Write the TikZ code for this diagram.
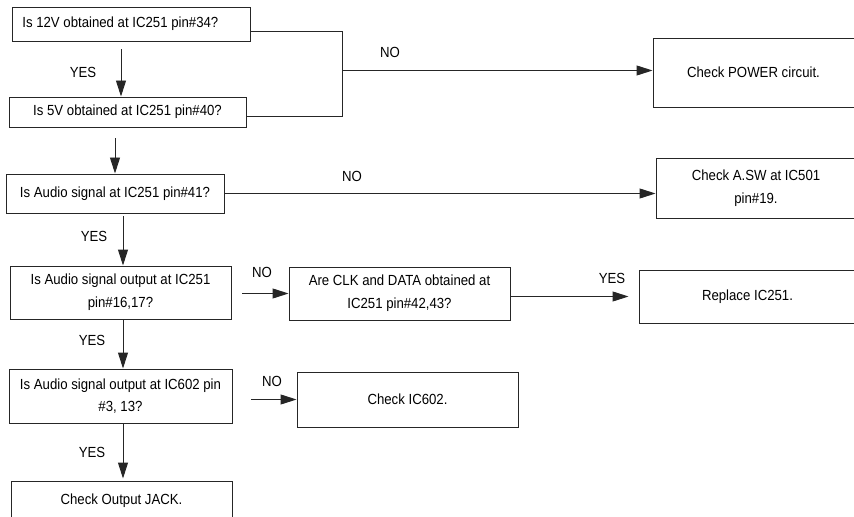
\documentclass[tikz,border=0pt]{standalone}
\usepackage{fontspec}
\setmainfont{Liberation Sans}[FakeStretch=0.9]
\usetikzlibrary{arrows.meta, calc}
\tikzset{
  box/.style={draw=black!85, line width=0.7pt, align=center, inner sep=0pt, font=\fontsize{11}{17}\selectfont},
  conn/.style={draw=black!85, line width=0.7pt},
  arr/.style={conn, -{Triangle[length=12pt, width=7.5pt]}},
  lbl/.style={inner sep=0pt, font=\fontsize{11}{12}\selectfont},
}

\begin{document}
\begin{tikzpicture}[x=0.75pt, y=-0.75pt]
  \useasboundingbox (0,0) rectangle (854,517);
  \clip (0,0) rectangle (854,517);

  % Questions
  \node[box, minimum width=178.5pt, minimum height=25.5pt] (q1) at (131,24) {Is 12V obtained at IC251 pin\#34?\hspace*{16pt}};
  \node[box, minimum width=177.75pt, minimum height=22.5pt] (q2) at (127.5,112) {Is 5V obtained at IC251 pin\#40?};
  \node[box, minimum width=163.5pt, minimum height=29.25pt] (q3) at (115,193.5) {Is Audio signal at IC251 pin\#41?};
  \node[box, minimum width=165.75pt, minimum height=39.75pt] (q4) at (120.5,292.5) {Is Audio signal output at IC251\\pin\#16,17?};
  \node[box, minimum width=167.25pt, minimum height=40.5pt] (q5) at (120.5,396) {Is Audio signal output at IC602 pin\\\#3, 13?};
  \node[box, minimum width=165.75pt, minimum height=30pt] (q6) at (121.5,501) {Check Output JACK.};

  % Checks
  \node[box, minimum width=150.75pt, minimum height=51.75pt] (power) at (753.5,72.5) {Check POWER circuit.};
  \node[box, minimum width=150pt, minimum height=45pt] (asw) at (756,188) {Check A.SW at IC501\\pin\#19.};
  \node[box, minimum width=165.75pt, minimum height=39.75pt] (clk) at (399.5,293.5) {Are CLK and DATA obtained at\\IC251 pin\#42,43?};
  \node[box, minimum width=162.75pt, minimum height=39.75pt] (repl) at (747.5,296.5) {Replace IC251.};
  \node[box, minimum width=165.75pt, minimum height=41.25pt] (ic602) at (407.5,399.5) {Check IC602.};

  % YES path
  \draw[arr] ($(q1.south)+(-10,8)$) -- ($(q2.north)+(-6.5,0)$);
  \node[lbl] (yes1) at (83,72) {YES};
  \draw[arr] ($(q2.south)+(-12.5,11)$) -- (q3.north);
  \draw[arr] ($(q3.south)+(8,3)$) -- ($(q4.north)+(2.5,0)$);
  \node[lbl] (yes2) at (94,236) {YES};
  \draw[arr] ($(q4.south)+(2.5,0)$) -- ($(q5.north)+(2.5,0)$);
  \node[lbl] (yes3) at (92,340) {YES};
  \draw[arr] ($(q5.south)+(2.5,0)$) -- ($(q6.north)+(1.5,-2)$);
  \node[lbl] (yes4) at (92,452) {YES};

  % NO branches
  \coordinate (jn) at (342,70.5);
  \draw[conn] ($(q1.east)+(0,7)$) -| (jn);
  \draw[conn] ($(q2.east)+(0,4)$) -| (jn);
  \draw[arr] (jn) -- (jn -| power.west);
  \node[lbl] (no1) at (390,52) {NO};
  \draw[arr] (q3.east) -- (q3.east -| asw.west);
  \node[lbl] (no2) at (352,176) {NO};
  \draw[arr] ($(q4.east)+(11,1)$) -- (clk.west);
  \node[lbl] (no3) at (262,272) {NO};
  \draw[arr] ($(clk.east)+(0,3)$) -- ($(repl.west)+(-10,0)$);
  \node[lbl] (yes5) at (612,278) {YES};
  \draw[arr] ($(q5.east)+(19,3.5)$) -- (ic602.west);
  \node[lbl] (no4) at (272,381) {NO};
\end{tikzpicture}
\end{document}
